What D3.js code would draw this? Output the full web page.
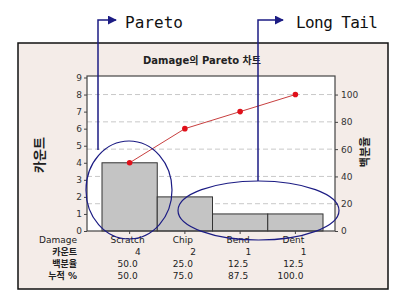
<!DOCTYPE html>
<html>
<head>
<meta charset="utf-8">
<script src="https://cdn.jsdelivr.net/npm/d3@7"></script>
<style>
  body { margin: 0; background: #fff; }
</style>
</head>
<body>
<div id="chart"></div>
<script>
// Data
const categories = ["Scratch", "Chip", "Bend", "Dent"];
const counts = [4, 2, 1, 1];
const percents = [50.0, 25.0, 12.5, 12.5];
const cumPercents = [50.0, 75.0, 87.5, 100.0];
const countTicks = [0, 1, 2, 3, 4, 5, 6, 7, 8, 9];
const pctTicks = [0, 20, 40, 60, 80, 100];
const rowLabels = ["Damage", "카운트", "백분율", "누적 %"];

const sans = "'DejaVu Sans', 'Noto Sans CJK KR', sans-serif";
const kor = "'Noto Sans CJK KR', sans-serif";
const mono = "'DejaVu Sans Mono', monospace";

const svg = d3.select("#chart").append("svg")
  .attr("width", 404).attr("height", 306)
  .style("font-family", sans);

const navy = "#1c1c84";

// Outer panel
svg.append("rect")
  .attr("x", 18).attr("y", 43).attr("width", 370).attr("height", 246)
  .attr("fill", "#f4ece8").attr("stroke", "#111").attr("stroke-width", 1.5);

const plot = { left: 87, right: 335, top: 76, bottom: 231 };
const total = d3.sum(counts);

const x = d3.scaleBand().domain(categories).range([102, 323]).paddingInner(0);
const y = d3.scaleLinear().domain([0, 9]).range([plot.bottom, plot.top + 1.5]);
const yPct = d3.scaleLinear().domain([0, 100]).range([plot.bottom, y(total)]);

// Plot background
svg.append("rect")
  .attr("x", plot.left).attr("y", plot.top)
  .attr("width", plot.right - plot.left).attr("height", plot.bottom - plot.top)
  .attr("fill", "#fff");

// Gridlines at percent ticks
svg.append("g").selectAll("line").data(pctTicks.filter(d => d > 0)).join("line")
  .attr("x1", plot.left).attr("x2", plot.right)
  .attr("y1", d => yPct(d)).attr("y2", d => yPct(d))
  .attr("stroke", "#c8c8c8").attr("stroke-dasharray", "5,3");

// Bars
svg.append("g").selectAll("rect").data(categories).join("rect")
  .attr("x", d => x(d)).attr("width", x.bandwidth())
  .attr("y", (d, i) => y(counts[i]))
  .attr("height", (d, i) => y(0) - y(counts[i]))
  .attr("fill", "#c4c4c4").attr("stroke", "#333").attr("stroke-width", 1);

// Cumulative line
const cx = d => x(d) + x.bandwidth() / 2;
const line = d3.line().x((d, i) => cx(categories[i])).y(d => yPct(d));
svg.append("path").datum(cumPercents)
  .attr("d", line).attr("fill", "none").attr("stroke", "#c84040").attr("stroke-width", 1);
svg.append("g").selectAll("circle").data(cumPercents).join("circle")
  .attr("cx", (d, i) => cx(categories[i])).attr("cy", d => yPct(d))
  .attr("r", 2.8).attr("fill", "#e0101a");

// Frame
svg.append("rect")
  .attr("x", plot.left).attr("y", plot.top)
  .attr("width", plot.right - plot.left).attr("height", plot.bottom - plot.top)
  .attr("fill", "none").attr("stroke", "#444").attr("stroke-width", 1.2);

// Axes
const axisStyle = g => {
  g.select(".domain").remove();
  g.selectAll(".tick line").attr("stroke", "#444");
  g.selectAll(".tick text").attr("font-size", 9).attr("fill", "#333")
    .style("font-family", sans);
};
svg.append("g").attr("transform", `translate(${plot.left},0)`)
  .call(d3.axisLeft(y).tickValues(countTicks).tickSize(3).tickPadding(2))
  .call(axisStyle);
svg.append("g").attr("transform", `translate(${plot.right},0)`)
  .call(d3.axisRight(yPct).tickValues(pctTicks).tickSize(3).tickPadding(3))
  .call(axisStyle);
svg.append("g").attr("transform", `translate(0,${plot.bottom})`)
  .call(d3.axisBottom(x).tickSize(3).tickFormat(""))
  .call(g => g.select(".domain").remove())
  .call(g => g.selectAll(".tick line").attr("stroke", "#444"));

// Title and axis labels
svg.append("text").attr("x", 202).attr("y", 64).attr("text-anchor", "middle")
  .attr("font-size", 10).attr("font-weight", "bold").attr("fill", "#222")
  .text("Damage의 Pareto 차트");
svg.append("text").attr("transform", "translate(44,155) rotate(-90)")
  .attr("text-anchor", "middle").attr("font-size", 13).attr("font-weight", "bold")
  .style("font-family", kor).attr("fill", "#222").text("카운트");
svg.append("text").attr("transform", "translate(369,152) rotate(-90)")
  .attr("text-anchor", "middle").attr("font-size", 11).attr("font-weight", "bold")
  .style("font-family", kor).attr("fill", "#222").text("백분율");

// Table under the chart
const rowY = [243, 255, 267, 279];
const table = svg.append("g").attr("font-size", 9).attr("fill", "#222");
rowLabels.forEach((r, j) => {
  table.append("text").attr("x", 77).attr("y", rowY[j]).attr("text-anchor", "end")
    .attr("font-weight", j > 0 ? "bold" : "normal").text(r);
});
categories.forEach((c, i) => {
  table.append("text").attr("x", cx(c) - 2).attr("y", rowY[0]).attr("text-anchor", "middle").text(c);
  table.append("text").attr("x", cx(c) + 11).attr("y", rowY[1]).attr("text-anchor", "end").text(counts[i]);
  table.append("text").attr("x", cx(c) + 8).attr("y", rowY[2]).attr("text-anchor", "end").text(percents[i].toFixed(1));
  table.append("text").attr("x", cx(c) + 8).attr("y", rowY[3]).attr("text-anchor", "end").text(cumPercents[i].toFixed(1));
});

// Annotations: ellipses and arrows
const marks = svg.append("g").attr("fill", "none").attr("stroke", navy).attr("stroke-width", 1.2);
marks.append("ellipse").attr("cx", 129).attr("cy", 190).attr("rx", 43).attr("ry", 49);
marks.append("ellipse").attr("cx", 258.5).attr("cy", 210.5).attr("rx", 80.5).attr("ry", 29.5);

svg.append("defs").append("marker").attr("id", "arr")
  .attr("viewBox", "0 0 10 10").attr("refX", 9).attr("refY", 5)
  .attr("markerWidth", 6).attr("markerHeight", 6).attr("orient", "auto")
  .append("path").attr("d", "M0,0L10,5L0,10z").attr("fill", navy);

marks.append("path").attr("d", "M98,150V20H116").attr("marker-end", "url(#arr)").attr("stroke-width", 1.5);
marks.append("path").attr("d", "M258,181V20H283").attr("marker-end", "url(#arr)").attr("stroke-width", 1.5);

svg.append("text").attr("x", 125).attr("y", 28).attr("font-size", 16)
  .attr("textLength", 58).style("font-family", mono).attr("fill", "#111").text("Pareto");
svg.append("text").attr("x", 296).attr("y", 28).attr("font-size", 16)
  .attr("textLength", 82).style("font-family", mono).attr("fill", "#111").text("Long Tail");
</script>
</body>
</html>
